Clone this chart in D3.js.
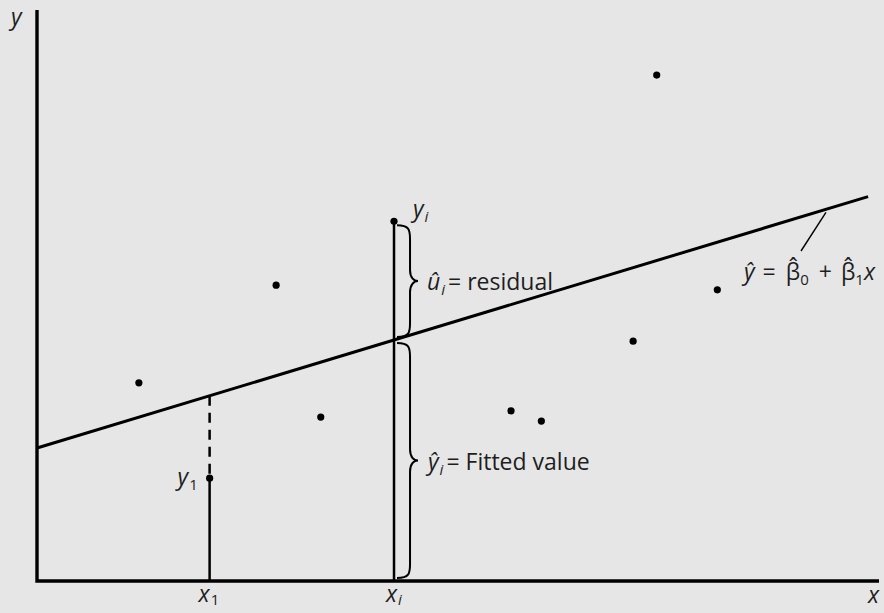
<!DOCTYPE html>
<html>
<head>
<meta charset="utf-8">
<script src="https://cdn.jsdelivr.net/npm/d3@7"></script>
<style>
  body { margin: 0; background: #e6e6e6; }
  svg { display: block; }
  text { font-family: "Open Sans", "Noto Sans", sans-serif; fill: #1e1e1e; }
</style>
</head>
<body>
<svg id="chart" width="884" height="613"></svg>
<script>
// observations (x, y) in plot units 0..10
var obsX = [1.21, 2.84, 3.37, 4.24, 2.05, 5.63, 5.99, 7.08, 8.08, 7.36];
var obsY = [3.47, 5.18, 2.87, 6.30, 1.80, 2.98, 2.80, 4.20, 5.10, 8.86];
// fitted line yhat = b0 + b1 x
var beta0 = 2.33, beta1 = 0.446;
var lineEnd = 9.87;
// highlighted observations: x1 (index 4) and xi (index 3)
var idxOne = 4, idxI = 3;

var svg = d3.select('#chart');
var x = d3.scaleLinear().domain([0, 10]).range([37, 879]);
var y = d3.scaleLinear().domain([0, 10]).range([581, 10]);
var fit = function (v) { return beta0 + beta1 * v; };

// axes
svg.append('path')
  .attr('d', 'M' + x(0) + ',' + y(10) + 'V' + y(0) + 'H' + x(10))
  .attr('fill', 'none').attr('stroke', '#000').attr('stroke-width', 3.4);

// regression line
svg.append('line')
  .attr('x1', x(0)).attr('y1', y(fit(0)))
  .attr('x2', x(lineEnd)).attr('y2', y(fit(lineEnd)))
  .attr('stroke', '#000').attr('stroke-width', 3);

// x1: dashed from fitted down to y1, solid to axis
var xa = obsX[idxOne];
svg.append('line')
  .attr('x1', x(xa)).attr('x2', x(xa))
  .attr('y1', y(fit(xa))).attr('y2', y(obsY[idxOne]))
  .attr('stroke', '#000').attr('stroke-width', 2.5)
  .attr('stroke-dasharray', '10,7');
svg.append('line')
  .attr('x1', x(xa)).attr('x2', x(xa))
  .attr('y1', y(obsY[idxOne])).attr('y2', y(0))
  .attr('stroke', '#000').attr('stroke-width', 2.5);

// xi: solid from yi to axis
var xb = obsX[idxI];
svg.append('line')
  .attr('x1', x(xb)).attr('x2', x(xb))
  .attr('y1', y(obsY[idxI])).attr('y2', y(0))
  .attr('stroke', '#000').attr('stroke-width', 2.5);

// points
svg.selectAll('circle.pt')
  .data(d3.range(obsX.length))
  .join('circle')
  .attr('class', 'pt')
  .attr('cx', i => x(obsX[i]))
  .attr('cy', i => y(obsY[i]))
  .attr('r', 3.6)
  .attr('fill', '#000');

// curly brace, vertical, opening to the left, tip pointing right
function brace(px, top, bottom, w) {
  var mid = (top + bottom) / 2;
  var c = 7;
  var v = px + w * 0.62;
  return 'M' + px + ',' + top +
    'C' + (v - 1) + ',' + top + ' ' + v + ',' + (top + c * 0.6) + ' ' + v + ',' + (top + c * 2) +
    'L' + v + ',' + (mid - c * 1.6) +
    'C' + v + ',' + (mid - c * 0.5) + ' ' + (px + w * 0.8) + ',' + mid + ' ' + (px + w) + ',' + mid +
    'C' + (px + w * 0.8) + ',' + mid + ' ' + v + ',' + (mid + c * 0.5) + ' ' + v + ',' + (mid + c * 1.6) +
    'L' + v + ',' + (bottom - c * 2) +
    'C' + v + ',' + (bottom - c * 0.6) + ' ' + (v - 1) + ',' + bottom + ' ' + px + ',' + bottom;
}
var bx = x(xb) + 3;
svg.append('path')
  .attr('d', brace(bx, y(obsY[idxI]) + 4, y(fit(xb)) - 3, 21))
  .attr('fill', 'none').attr('stroke', '#000').attr('stroke-width', 2);
svg.append('path')
  .attr('d', brace(bx, y(fit(xb)) + 3, y(0) - 3, 21))
  .attr('fill', 'none').attr('stroke', '#000').attr('stroke-width', 2);

// leader to equation
svg.append('line')
  .attr('x1', x(9.37)).attr('y1', y(fit(9.37)) + 3)
  .attr('x2', 801).attr('y2', 251)
  .attr('stroke', '#000').attr('stroke-width', 1.4);

// labels
function label(px, py, parts, fs) {
  var t = svg.append('text').attr('x', px).attr('y', py).attr('font-size', fs || 23);
  parts.forEach(function (p) {
    var s = t.append('tspan').text(p.t);
    if (p.it) s.attr('font-style', 'italic');
    if (p.sub) s.attr('font-size', 15).attr('dy', p.sub === 2 ? 3 : 5);
    if (p.up) s.attr('dy', p.up === 2 ? -3 : -5);
    if (p.dx) s.attr('dx', p.dx);
  });
  return t;
}
label(11, 25, [{ t: 'y', it: 1 }]);
label(868, 603, [{ t: 'x', it: 1 }]);
label(x(xa) - 11, 602, [{ t: 'x', it: 1 }, { t: '1', sub: 2, dx: 1 }]);
label(x(xb) - 8, 602, [{ t: 'x', it: 1 }, { t: 'i', it: 1, sub: 2, dx: 1 }]);
label(x(xa) - 32, 485, [{ t: 'y', it: 1 }, { t: '1', sub: 1, dx: 1 }]);
label(x(xb) + 19, 217, [{ t: 'y', it: 1 }, { t: 'i', it: 1, sub: 1, dx: 1 }]);
label(427, 290, [{ t: 'û', it: 1 }, { t: 'i', it: 1, sub: 1, dx: 1 }, { t: '= residual', up: 1, dx: 3 }]);
label(428, 470, [{ t: 'ŷ', it: 1 }, { t: 'i', it: 1, sub: 1, dx: 1 }, { t: '= Fitted value', up: 1, dx: 3 }]);
label(744, 280, [{ t: 'ŷ', it: 1 }, { t: '=', dx: 8 }, { t: 'β\u0302', dx: 10 }, { t: '0', sub: 1 },
  { t: '+', up: 1, dx: 10 }, { t: 'β\u0302', dx: 9 }, { t: '1', sub: 1 }, { t: 'x', it: 1, up: 1 }]);
</script>
</body>
</html>
